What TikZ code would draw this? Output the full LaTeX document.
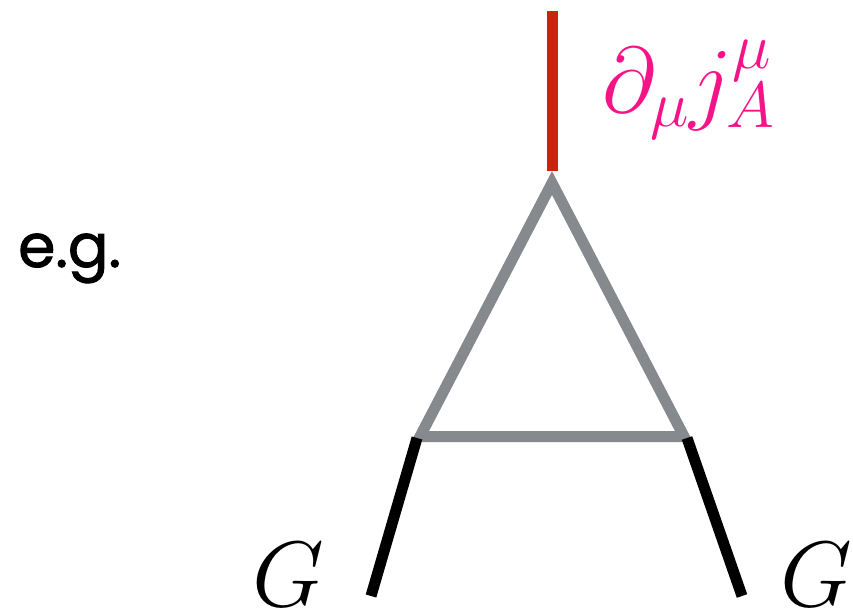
\RequirePackage{fix-cm}
\documentclass[tikz,border=0pt]{standalone}
\usepackage{fontspec}
\newfontfamily\egfont{Poppins}[FakeBold=1.6]
\definecolor{loopgray}{RGB}{134,137,142}
\definecolor{currentred}{RGB}{200,38,10}
\definecolor{labelpink}{RGB}{245,20,135}
\tikzset{
  x=1pt, y=1pt,
  loopline/.style={draw=loopgray, line width=11pt, line join=miter},
  gluonline/.style={draw=black, line width=11pt, line cap=butt},
  currentline/.style={draw=currentred, line width=11pt, line cap=butt},
  mathlabel/.style={inner sep=0pt, font=\fontsize{93}{105}\selectfont},
}
\begin{document}
\begin{tikzpicture}
\useasboundingbox (0,0) rectangle (853,611);
% vertices
\coordinate (apex) at (552,428);
\coordinate (bl) at (420,174.5);
\coordinate (br) at (684,174.5);
\coordinate (tip) at (552,440);
\coordinate (top) at (552,600);
\coordinate (blg) at (417,173);
\coordinate (brg) at (687,173);
\coordinate (lend) at (371,15);
\coordinate (rend) at (742,15);
% lines
\draw[currentline] (top) -- (tip);
\draw[loopline] (apex) -- (bl) -- (br) -- cycle;
\draw[gluonline] (blg) -- (lend);
\draw[gluonline] (brg) -- (rend);
% labels
\node[mathlabel, anchor=base west, text=labelpink] (jlab) at (602,498) {$\partial_\mu j_A^\mu$};
\node[mathlabel, anchor=base] (gl) at (288,5) {$G$};
\node[mathlabel, anchor=base] (gr) at (816,5) {$G$};
\node[inner sep=0pt, anchor=base west, font=\egfont\fontsize{60}{70}\selectfont] (eg) at (18,344) {e.g.};
\end{tikzpicture}
\end{document}
